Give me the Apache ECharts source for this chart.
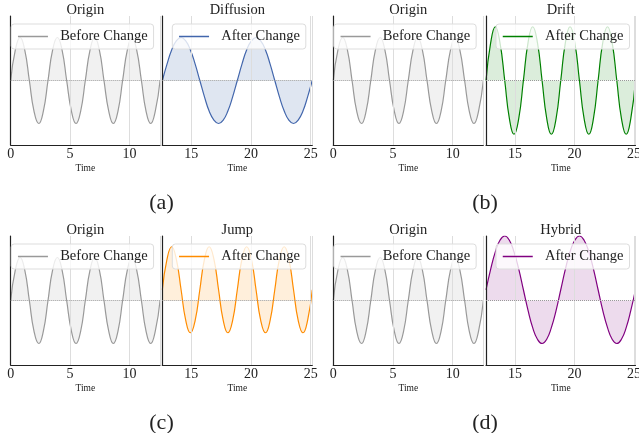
<!DOCTYPE html>
<html>
<head>
<meta charset="utf-8">
<script src="https://cdn.jsdelivr.net/npm/echarts@6/dist/echarts.min.js"></script>
<style>
  html, body { margin: 0; padding: 0; background: #fff; }
  #chart { width: 639px; height: 433px; }
</style>
</head>
<body>
<div id="chart"></div>
<script>
// time samples (pi/8 steps), before and after the change point
const originTime = [0.00, 0.39, 0.79, 1.18, 1.57, 1.96, 2.36, 2.75, 3.14, 3.53, 3.93, 4.32, 4.71, 5.11, 5.50, 5.89,
  6.28, 6.68, 7.07, 7.46, 7.85, 8.25, 8.64, 9.03, 9.42, 9.82, 10.21, 10.60, 11.00, 11.39, 11.78, 12.17, 12.57]
const afterTime = [12.57, 12.96, 13.35, 13.74, 14.14, 14.53, 14.92, 15.32, 15.71, 16.10, 16.49, 16.89, 17.28, 17.67,
  18.06, 18.46, 18.85, 19.24, 19.63, 20.03, 20.42, 20.81, 21.21, 21.60, 21.99, 22.38, 22.78, 23.17, 23.56, 23.95,
  24.35, 24.74, 25.13]

const beforeValues = [0, 0.71, 1, 0.71, 0, -0.71, -1, -0.71, 0, 0.71, 1, 0.71, 0, -0.71, -1, -0.71,
  0, 0.71, 1, 0.71, 0, -0.71, -1, -0.71, 0, 0.71, 1, 0.71, 0, -0.71, -1, -0.71, 0]
const diffusionValues = [0, 0.38, 0.71, 0.92, 1, 0.92, 0.71, 0.38, 0, -0.38, -0.71, -0.92, -1, -0.92, -0.71, -0.38,
  0, 0.38, 0.71, 0.92, 1, 0.92, 0.71, 0.38, 0, -0.38, -0.71, -0.92, -1, -0.92, -0.71, -0.38, 0]
const driftValues = [0, 0.88, 1.25, 0.88, 0, -0.88, -1.25, -0.88, 0, 0.88, 1.25, 0.88, 0, -0.88, -1.25, -0.88,
  0, 0.88, 1.25, 0.88, 0, -0.88, -1.25, -0.88, 0, 0.88, 1.25, 0.88, 0, -0.88, -1.25, -0.88, 0]
const jumpValues = [0.25, 0.96, 1.25, 0.96, 0.25, -0.46, -0.75, -0.46, 0.25, 0.96, 1.25, 0.96, 0.25, -0.46, -0.75, -0.46,
  0.25, 0.96, 1.25, 0.96, 0.25, -0.46, -0.75, -0.46, 0.25, 0.96, 1.25, 0.96, 0.25, -0.46, -0.75, -0.46, 0.25]
const hybridValues = [0.25, 0.73, 1.13, 1.40, 1.50, 1.40, 1.13, 0.73, 0.25, -0.23, -0.63, -0.90, -1.00, -0.90, -0.63, -0.23,
  0.25, 0.73, 1.13, 1.40, 1.50, 1.40, 1.13, 0.73, 0.25, -0.23, -0.63, -0.90, -1.00, -0.90, -0.63, -0.23, 0.25]

const panelTitles = ['Diffusion', 'Drift', 'Jump', 'Hybrid']
const panelLabels = ['(a)', '(b)', '(c)', '(d)']
const afterSeries = [diffusionValues, driftValues, jumpValues, hybridValues]
const xTicks = [0, 5, 10, 15, 20, 25]

const afterColors = ['#4266ac', '#008000', '#ff8c00', '#800080']
const afterFill = ['rgba(76,114,176,0.25)', 'rgba(0,128,0,0.2)', 'rgba(255,140,0,0.2)', 'rgba(128,0,128,0.2)']
const beforeColor = '#999999'
const serif = 'Liberation Serif, Times New Roman, serif'

// column x-edges [left0, left1, right0, right1], row tops
const colX = [[10.7, 160, 162.3, 312.3], [333.3, 483.3, 486, 635.5]]
const rowTop = [16, 236]
const plotH = 129

let myChart = echarts.init(document.getElementById('chart'), null, {renderer: 'canvas'})

let grids = []
let xAxes = []
let yAxes = []
let series = []
let titles = []
let legends = []

const pairs = (xs, ys) => xs.map((x, k) => [x, ys[k]])

panelTitles.forEach((name, i) => {
  let cx = colX[i % 2]
  let top = rowTop[Math.floor(i / 2)]
  let halves = [
    {x0: cx[0], x1: cx[1], min: 0, max: 12.566, title: 'Origin', sname: 'Before Change',
      data: pairs(originTime, beforeValues), color: beforeColor, fill: 'rgba(153,153,153,0.2)'},
    {x0: cx[2], x1: cx[3], min: 12.566, max: 25.133, title: name, sname: 'After Change',
      data: pairs(afterTime, afterSeries[i]), color: afterColors[i], fill: afterFill[i]}
  ]
  halves.forEach((h, j) => {
    let idx = grids.length
    grids.push({left: h.x0, top: top, width: h.x1 - h.x0, height: plotH, containLabel: false, outerBoundsMode: 'none'})
    xAxes.push({
      gridIndex: idx, type: 'value', min: h.min, max: h.max, splitNumber: j === 0 ? 3 : 2,
      interval: j === 0 ? 5 : undefined,
      name: 'Time', nameLocation: 'middle', nameGap: 18,
      nameTextStyle: {fontFamily: serif, fontSize: 9.5, color: '#222'},
      axisLine: {onZero: false, lineStyle: {color: '#222', width: 1.2}},
      axisTick: {show: false},
      axisLabel: {
        margin: 2, fontFamily: serif, fontSize: 14, color: '#222',
        formatter: v => (xTicks.indexOf(v) >= 0 ? String(v) : '')
      },
      splitLine: {show: true, lineStyle: {color: '#dddddd', width: 1}}
    })
    yAxes.push({
      gridIndex: idx, type: 'value', min: -1.5, max: 1.5,
      axisLine: {show: true, onZero: false, lineStyle: {color: '#222', width: 1.2}},
      axisTick: {show: false}, axisLabel: {show: false}, splitLine: {show: false}
    })
    series.push({
      name: h.sname, type: 'line', xAxisIndex: idx, yAxisIndex: idx,
      data: h.data, smooth: true, symbol: 'none', z: -1,
      lineStyle: {color: h.color, width: 1.2},
      itemStyle: {color: h.color},
      areaStyle: {color: h.fill, origin: 0},
      markLine: {
        silent: true, symbol: 'none', label: {show: false},
        lineStyle: {type: 'dotted', color: '#999', width: 1},
        data: [{yAxis: 0}]
      }
    })
    titles.push({
      text: h.title, left: (h.x0 + h.x1) / 2, top: top - 13, textAlign: 'center', padding: 0,
      textStyle: {fontFamily: serif, fontSize: 14.5, fontWeight: 'normal', color: '#222'}
    })
    legends.push({
      data: [{name: h.sname, lineStyle: {color: h.color, width: 1.5}, itemStyle: {color: h.color, opacity: 0}}],
      left: j === 0 ? h.x0 + 0.5 : h.x0 + 10, top: top + 8,
      orient: 'horizontal', itemWidth: 30, itemHeight: 12,
      formatter: n => '  ' + n,
      backgroundColor: 'rgba(255,255,255,0.8)', borderColor: '#dddddd', borderWidth: 1, borderRadius: 3,
      padding: [5, 6, 5, 6], selectedMode: false,
      textStyle: {fontFamily: serif, fontSize: 14.5, color: '#222'}
    })
  })
  titles.push({
    text: panelLabels[i], left: i % 2 === 0 ? 161.5 : 485, top: top + 176, textAlign: 'center', padding: 0,
    textStyle: {fontFamily: serif, fontSize: 22, fontWeight: 'normal', color: '#222'}
  })
})

let option = {
  backgroundColor: '#fff',
  animation: false,
  title: titles,
  legend: legends,
  grid: grids,
  xAxis: xAxes,
  yAxis: yAxes,
  series: series
}
myChart.setOption(option)
</script>
</body>
</html>
